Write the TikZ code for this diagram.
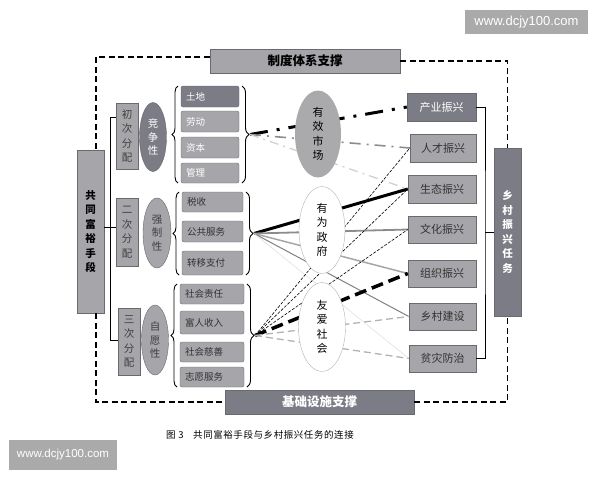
\documentclass[tikz,border=0pt]{standalone}
\usepackage{fontspec}
\setmainfont{Noto Sans CJK SC}
\newfontfamily\wmfont{Liberation Sans}
\usetikzlibrary{positioning,shapes.geometric,decorations.pathreplacing}
\definecolor{boxdark}{RGB}{124,124,134}
\definecolor{boxlight}{RGB}{166,166,170}
\definecolor{boxline}{RGB}{105,105,110}
\definecolor{ellgray}{RGB}{170,170,172}
\definecolor{wmgray}{RGB}{170,170,170}

\begin{document}
\begin{tikzpicture}[x=1pt, y=-1pt,
  every node/.style={font=\fontsize{9}{11}\selectfont},
  darkbox/.style={draw=boxline, fill=boxdark, text=white, inner sep=0pt},
  lightbox/.style={draw=boxline, fill=boxlight, text=black!80, inner sep=0pt},
  vtext/.style={align=center, font=\fontsize{10.5}{14.5}\selectfont},
  itembox/.style={rounded corners=2pt, inner xsep=5pt, inner ysep=0pt, align=left, font=\fontsize{9.5}{10}\selectfont},
  taskbox/.style={minimum width=68pt, minimum height=27pt, font=\fontsize{11}{12}\selectfont},
  midell/.style={ellipse, draw=black!30, inner sep=0pt, minimum width=46pt, minimum height=87pt, vtext, font=\fontsize{11}{14.5}\selectfont},
  sideell/.style={ellipse, draw=boxline, inner sep=0pt, minimum width=27pt, minimum height=69pt, align=center, font=\fontsize{10.5}{13.5}\selectfont},
  supportline/.style={line width=1.5pt, dash pattern=on 6pt off 3.5pt},
  bigbrace/.style={decorate, decoration={brace, amplitude=7pt}, line width=0.9pt},
  wmark/.style={fill=wmgray, text=white, inner sep=0pt}
]
\useasboundingbox (0,0) rectangle (600,480);

% Support boxes
\node[lightbox, text=black, minimum width=190pt, minimum height=24pt, font=\fontsize{12.5}{14}\selectfont\bfseries] (zhidu) at (305,61) {制度体系支撑};
\node[darkbox, minimum width=189pt, minimum height=24pt, font=\fontsize{12.5}{14}\selectfont\bfseries] (jichu) at (319.5,402) {基础设施支撑};

% Means and tasks
\node[lightbox, text=black, minimum width=27pt, minimum height=163pt, vtext, font=\fontsize{10.5}{14.5}\selectfont\bfseries] (gongtong) at (90.5,231.5) {共\\同\\富\\裕\\手\\段};
\node[darkbox, minimum width=27pt, minimum height=168pt, vtext, font=\fontsize{10.5}{14.5}\selectfont\bfseries] (xiangcun) at (507.5,232) {乡\\村\\振\\兴\\任\\务};

% Dashed support frame
\coordinate (fTL) at (96,57);
\draw[supportline] (zhidu.west |- fTL) -- (fTL) -- (gongtong.north -| fTL);
\draw[supportline] (zhidu.east) -| (xiangcun.north);
\draw[supportline] (gongtong.south -| fTL) |- (jichu.west);
\draw[supportline] (jichu.east) -| (xiangcun.south);

% Distribution stages
\node[lightbox, minimum width=22pt, minimum height=66pt, vtext, text=black!75] (chuci) at (127,136) {初\\次\\分\\配};
\node[lightbox, minimum width=22pt, minimum height=68pt, vtext, text=black!75] (erci) at (127,232) {二\\次\\分\\配};
\node[lightbox, minimum width=22pt, minimum height=67pt, vtext, text=black!75] (sanci) at (129,341.5) {三\\次\\分\\配};

\node[sideell, fill=boxdark, text=white] (jingzheng) at (153,137) {竞\\争\\性};
\node[sideell, fill=boxlight, text=black!75, minimum width=28pt, minimum height=70pt] (qiangzhi) at (157,233) {强\\制\\性};
\node[sideell, fill=boxlight, text=black!75, minimum height=70pt] (ziyuan) at (155,340) {自\\愿\\性};

% Left bracket
\coordinate (ltop) at (110,117);
\coordinate (lmid) at (110,227);
\coordinate (lbot) at (110,340);
\draw[line width=0.9pt] (chuci.west |- ltop) -- (ltop) -- (lbot) -- (sanci.west |- lbot);
\draw[line width=0.9pt] (gongtong.east |- lmid) -- (erci.west |- lmid);

% Primary items
\node[darkbox, itembox, text width=48pt, minimum height=21pt] (tudi) at (210,96.5) {土地};
\node[lightbox, itembox, text=white, text width=48pt, minimum height=21pt] (laodong) at (210,121.5) {劳动};
\node[lightbox, itembox, text=white, text width=48pt, minimum height=21pt] (ziben) at (210,147.5) {资本};
\node[lightbox, itembox, text=white, text width=48pt, minimum height=20pt] (guanli) at (210,173) {管理};

% Secondary items
\node[lightbox, itembox, text width=51pt, minimum height=20pt] (shuishou) at (212.5,202) {税收};
\node[lightbox, itembox, text width=51pt, minimum height=21pt] (gonggong) at (212.5,231.5) {公共服务};
\node[lightbox, itembox, text width=51pt, minimum height=24pt] (zhuanyi) at (212.5,263) {转移支付};

% Tertiary items
\node[lightbox, itembox, text width=54pt, minimum height=20pt] (zeren) at (212,294) {社会责任};
\node[lightbox, itembox, text width=54pt, minimum height=23pt] (furen) at (212,322.5) {富人收入};
\node[lightbox, itembox, text width=54pt, minimum height=20pt] (cishan) at (212,352) {社会慈善};
\node[lightbox, itembox, text width=54pt, minimum height=20pt] (zhiyuan) at (212,377) {志愿服务};

% Braces
\draw[bigbrace, decoration={amplitude=6pt}] (178,183) -- (178,86);
\draw[bigbrace] (242,86) -- (242,183);
\draw[bigbrace, decoration={amplitude=6pt}] (179,275) -- (179,192);
\draw[bigbrace] (246,192) -- (246,275);
\draw[bigbrace, decoration={amplitude=6pt}] (177,387) -- (177,284);
\draw[bigbrace] (247,284) -- (247,387);
\coordinate (mktip) at (250,134.5);
\coordinate (govtip) at (254,233.5);
\coordinate (sctip) at (255,335.5);

% Rural revitalisation tasks
\node[darkbox, taskbox, minimum width=69pt, minimum height=28pt] (chanye) at (441.5,107) {产业振兴};
\node[lightbox, taskbox, minimum width=66pt, minimum height=28pt] (rencai) at (443,148) {人才振兴};
\node[lightbox, taskbox, minimum height=28pt] (shengtai) at (442,189) {生态振兴};
\node[lightbox, taskbox] (wenhua) at (442,229.5) {文化振兴};
\node[lightbox, taskbox] (zuzhi) at (442,273.5) {组织振兴};
\node[lightbox, taskbox, minimum width=67pt] (jianshe) at (442.5,316.5) {乡村建设};
\node[lightbox, taskbox, minimum width=67pt] (fangzhi) at (442.5,358.5) {贫灾防治};

% Right bracket
\coordinate (rbar) at (485,232);
\draw[line width=0.9pt] (chanye.east) -| (rbar) |- (fangzhi.east);
\draw[line width=0.9pt] (rbar) -- (xiangcun.west);

% Market links
\draw[line width=3pt, dash pattern=on 18pt off 9pt on 3pt off 9pt] (mktip) -- (chanye.west);
\draw[black!45, line width=1.6pt, dash pattern=on 11pt off 6pt on 2pt off 6pt] (mktip) -- (rencai.west);
\draw[black!18, line width=1.3pt, dash pattern=on 9pt off 5pt on 2pt off 5pt] (mktip) -- (shengtai.west);

% Government links
\draw[line width=3pt] (govtip) -- (shengtai.west);
\draw[black!45, line width=1.8pt] (govtip) -- (wenhua.west);
\draw[black!35, line width=1.5pt] (govtip) -- (zuzhi.west);
\draw[black!50, line width=1pt] (govtip) -- (jianshe.west);
\draw[black!12, line width=0.6pt] (govtip) -- (fangzhi.west);

% Society links
\draw[line width=0.6pt, dash pattern=on 3pt off 1.5pt] (sctip) -- (rencai.west);
\draw[line width=0.6pt, dash pattern=on 3pt off 1.5pt] (sctip) -- (shengtai.west);
\draw[line width=0.6pt, dash pattern=on 3pt off 1.5pt] (sctip) -- (wenhua.west);
\draw[line width=3.5pt, dash pattern=on 12pt off 6pt] (sctip) -- (zuzhi.west);
\draw[black!30, line width=1.3pt, dash pattern=on 7pt off 4pt] (sctip) -- (jianshe.west);
\draw[black!30, line width=1.3pt, dash pattern=on 7pt off 4pt] (sctip) -- (fangzhi.west);

% Market, government, society
\node[midell, fill=ellgray, draw=none] (shichang) at (318,134) {有\\效\\市\\场};
\node[midell, fill=white] (zhengfu) at (322,230) {有\\为\\政\\府};
\node[midell, fill=white, minimum width=47pt, minimum height=89pt] (shehui) at (322,327) {友\\爱\\社\\会};

% Caption
\node[font=\fontsize{9.5}{11}\selectfont\addfontfeature{LetterSpace=6}] (caption) at (260,435) {图 3\quad 共同富裕手段与乡村振兴任务的连接};

% Watermarks
\node[wmark, minimum width=123pt, minimum height=24pt, font=\wmfont\fontsize{13}{14}\selectfont] (wmtop) at (526.5,22) {www.dcjy100.com};
\node[wmark, minimum width=108pt, minimum height=30pt, font=\wmfont\fontsize{11.5}{13}\selectfont] (wmbottom) at (63,455) {www.dcjy100.com};
\end{tikzpicture}
\end{document}
